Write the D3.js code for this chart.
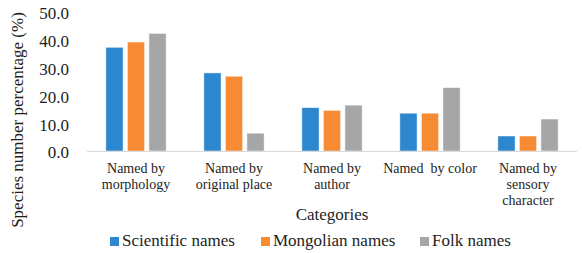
<!DOCTYPE html>
<html lang="en">
<head>
    <meta charset="UTF-8">
    <title>Species naming categories</title>
    <script src="https://d3js.org/d3.v7.min.js"></script>
    <style>
        body { margin: 0; background: #fff; }
        svg text { font-family: "Liberation Serif", "DejaVu Serif", serif !important; fill: #1e1e1e; }
    </style>
</head>
<body>
<svg width="582" height="253" font-family="Liberation Serif"></svg>
<script type="text/javascript">
// data
var categories = [
    ["Named by", "morphology"],
    ["Named by", "original place"],
    ["Named by", "author"],
    ["Named  by color"],
    ["Named by", "sensory", "character"]
];
var seriesNames = ["Scientific names", "Mongolian names", "Folk names"];
var scientific = [37.3, 28.1, 15.6, 13.6, 5.4];
var mongolian  = [39.2, 26.9, 14.6, 13.6, 5.4];
var folk       = [42.3, 6.4, 16.5, 22.8, 11.5];
var yTicks = [0, 10, 20, 30, 40, 50];

var seriesValues = [scientific, mongolian, folk];
var colors = ["#2C87CE", "#F68B34", "#A5A6A8"];

var svg = d3.select("svg");

var plotLeft = 87, plotRight = 577, plotTop = 12, plotBottom = 151;

var x0 = d3.scaleBand()
    .domain(d3.range(categories.length))
    .range([plotLeft, plotRight])
    .padding(0);

var groupW = 60.3;
var x1 = d3.scaleBand()
    .domain(d3.range(seriesNames.length))
    .range([(x0.bandwidth() - groupW) / 2, (x0.bandwidth() + groupW) / 2])
    .paddingInner(0.2)
    .paddingOuter(0);

var y = d3.scaleLinear()
    .domain([0, 50])
    .range([plotBottom, plotTop]);

// bars
var groups = svg.selectAll(".group")
    .data(categories)
    .enter().append("g")
    .attr("class", "group")
    .attr("transform", function(d, i) { return "translate(" + x0(i) + ",0)"; });

groups.selectAll("rect")
    .data(function(d, i) { return seriesValues.map(function(s, k) { return {k: k, v: s[i]}; }); })
    .enter().append("rect")
    .attr("x", function(d) { return x1(d.k); })
    .attr("width", x1.bandwidth())
    .attr("y", function(d) { return y(d.v); })
    .attr("height", function(d) { return y(0) - y(d.v); })
    .attr("fill", function(d) { return colors[d.k]; })
    .attr("stroke", "#fff")
    .attr("stroke-opacity", 0.6)
    .attr("stroke-width", 0.8);

// x axis line
svg.append("line")
    .attr("x1", plotLeft).attr("x2", plotRight)
    .attr("y1", y(0) + 0.5).attr("y2", y(0) + 0.5)
    .attr("stroke", "#D9D9D9")
    .attr("stroke-width", 1.2);

// y axis labels
var yAxis = svg.append("g")
    .attr("transform", "translate(" + 69 + ",1.5)")
    .call(d3.axisLeft(y).tickValues(yTicks).tickFormat(d3.format(".1f")).tickSize(0).tickPadding(0));
yAxis.select(".domain").remove();
yAxis.attr("font-family", null).attr("font-size", null);
yAxis.selectAll("text")
    .style("font-size", "17px")
    .attr("fill", "#1e1e1e");

// category labels
var catLabels = svg.selectAll(".cat")
    .data(categories)
    .enter().append("text")
    .attr("class", "cat")
    .attr("text-anchor", "middle")
    .style("font-size", "14px")
    .style("white-space", "pre")
    .attr("transform", function(d, i) { return "translate(" + (x0(i) + x0.bandwidth() / 2) + ",173)"; });

catLabels.selectAll("tspan")
    .data(function(d) { return d; })
    .enter().append("tspan")
    .attr("x", 0)
    .attr("dy", function(d, j) { return j === 0 ? 0 : 16; })
    .text(function(d) { return d; });

// axis titles
svg.append("text")
    .attr("x", (plotLeft + plotRight) / 2)
    .attr("y", 220)
    .attr("text-anchor", "middle")
    .style("font-size", "17px")
    .text("Categories");

svg.append("text")
    .attr("transform", "translate(23,120) rotate(-90)")
    .attr("text-anchor", "middle")
    .style("font-size", "17px")
    .text("Species number percentage (%)");

// legend
var legendX = [110, 261, 420];
var legend = svg.selectAll(".legend")
    .data(seriesNames)
    .enter().append("g")
    .attr("class", "legend")
    .attr("transform", function(d, i) { return "translate(" + legendX[i] + ",237)"; });

legend.append("rect")
    .attr("width", 9)
    .attr("height", 9)
    .attr("fill", function(d, i) { return colors[i]; });

legend.append("text")
    .attr("x", 12)
    .attr("y", 9)
    .style("font-size", "17px")
    .text(function(d) { return d; });
</script>
</body>
</html>
